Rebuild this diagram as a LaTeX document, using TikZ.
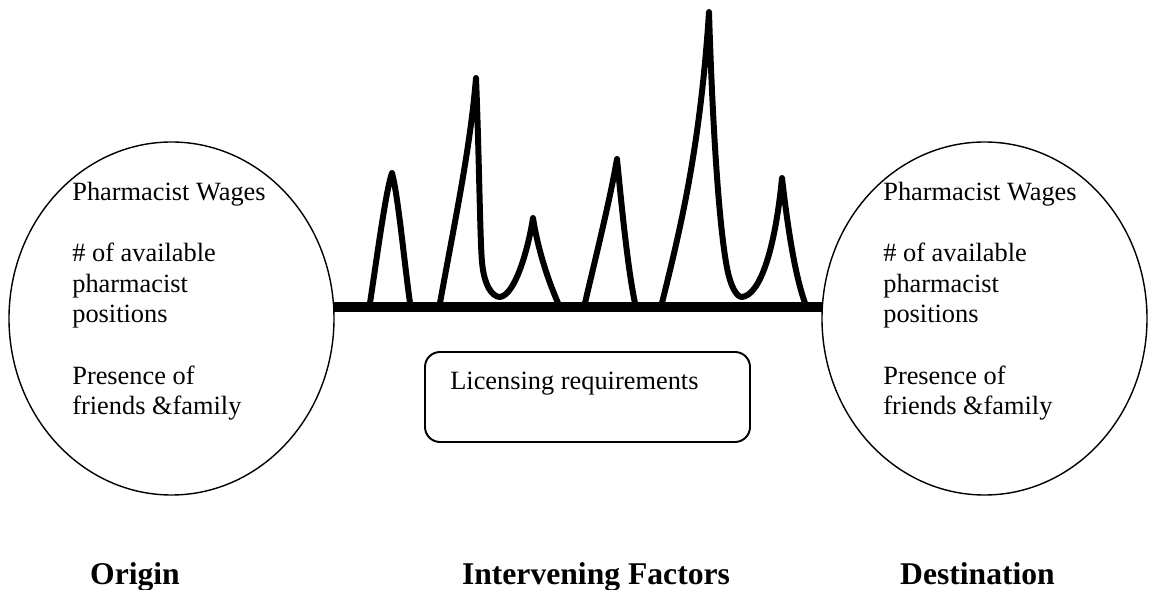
\documentclass[tikz,border=0pt]{standalone}
\usepackage{fontspec}
\setmainfont{Liberation Serif}
\usetikzlibrary{shapes.geometric}

\begin{document}
\begin{tikzpicture}[x=0.2mm,y=-0.2mm,
  place/.style={ellipse,draw,line width=0.8pt,inner sep=0pt,minimum width=65mm,minimum height=70.6mm},
  factors/.style={align=left,inner sep=0pt,font=\fontsize{15}{17.4}\selectfont},
  barrier/.style={draw,rounded corners=3mm,line width=1.1pt,minimum width=65mm,minimum height=18mm},
  caption/.style={anchor=base,font=\fontsize{18}{21}\selectfont\bfseries},
  ridge/.style={line width=3.4pt,line join=round,line cap=round}]
\useasboundingbox (0,0) rectangle (1151,590);

% the two places
\node[place] (origin) at (171.5,318.5) {};
\node[place] (destination) at (984.5,318.5) {};
\node[factors,anchor=north west] (originTxt) at (72,182)
  {Pharmacist Wages\\[17.4pt]\# of available\\pharmacist\\positions\\[17.4pt]Presence of\\friends \&family};
\node[factors,anchor=north west] (destTxt) at (883,182)
  {Pharmacist Wages\\[17.4pt]\# of available\\pharmacist\\positions\\[17.4pt]Presence of\\friends \&family};

% ground line between them
\draw[line width=5.9pt] (origin.4) -- (destination.176);

% mountains
\draw[ridge] (370,303) .. controls (378,250) and (386,190) .. (392,173)
  .. controls (398,195) and (404,260) .. (410,303);
\draw[ridge] (440,303) .. controls (455,220) and (470,150) .. (476,78)
  .. controls (479,150) and (480,240) .. (482,262)
  .. controls (484,285) and (492,297) .. (500,297)
  .. controls (515,295) and (528,250) .. (533,218)
  .. controls (538,250) and (548,280) .. (558,303);
\draw[ridge] (585,303) .. controls (595,260) and (610,200) .. (617,159)
  .. controls (622,210) and (628,270) .. (635,303);
\draw[ridge] (662,303) .. controls (680,230) and (700,150) .. (709,12)
  .. controls (712,110) and (718,220) .. (727,268)
  .. controls (731,288) and (737,297) .. (742,297)
  .. controls (760,295) and (775,250) .. (782,178)
  .. controls (788,230) and (795,275) .. (805,303);

% obstacle box
\node[barrier] (licensing) at (587.5,397) {};
\node[factors,anchor=base west] (licTxt) at (450,390) {Licensing requirements};

% captions
\node[caption] (originLbl) at (135,585) {Origin};
\node[caption] (interLbl) at (596,585) {Intervening Factors};
\node[caption] (destLbl) at (977.5,585) {Destination};
\end{tikzpicture}
\end{document}
